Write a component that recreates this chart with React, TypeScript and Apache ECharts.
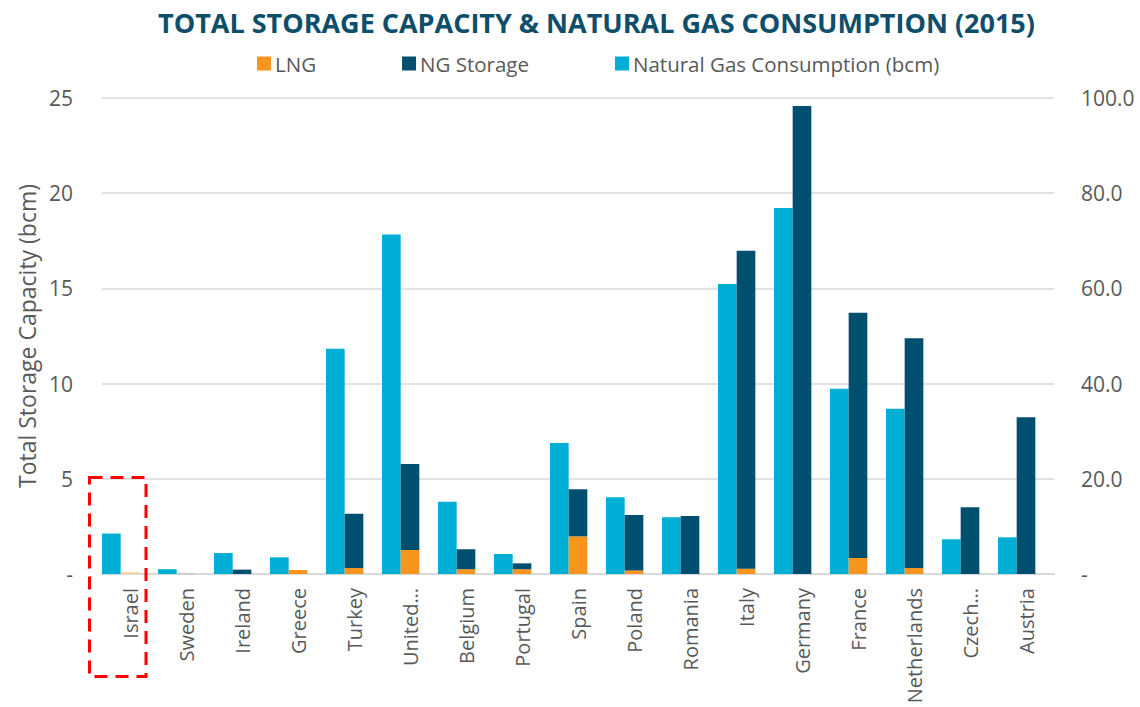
import React, { useEffect, useRef } from "react";
import * as echarts from "echarts";

const categories = [
  "Israel", "Sweden", "Ireland", "Greece", "Turkey", "United…", "Belgium", "Portugal",
  "Spain", "Poland", "Romania", "Italy", "Germany", "France", "Netherlands", "Czech…", "Austria",
];
// Natural gas consumption, bcm (right axis)
const consumption = [8.5, 1.0, 4.4, 3.5, 47.3, 71.3, 15.2, 4.2, 27.5, 16.1, 11.9, 60.9, 76.9, 38.9, 34.7, 7.3, 7.7];
// LNG storage capacity, bcm (left axis)
const lng = [0.1, 0, 0, 0.21, 0.32, 1.26, 0.25, 0.25, 1.98, 0.19, 0, 0.28, 0, 0.84, 0.32, 0, 0];
// Underground NG storage capacity, bcm (left axis)
const ngStorage = [0, 0.05, 0.23, 0, 2.85, 4.52, 1.05, 0.31, 2.47, 2.91, 3.05, 16.7, 24.58, 12.88, 12.06, 3.5, 8.23];
const leftTicks = { min: 0, max: 25, interval: 5 };
const rightTicks = { min: 0, max: 100, interval: 20 };

const C_CONS = "#00AED6";
const C_NG = "#004F6E";
const C_LNG = "#F7941D";
const GREY = "#595959";
const FONT = "Open Sans";

export default function App() {
  const ref = useRef<HTMLDivElement>(null);
  useEffect(() => {
    if (!ref.current) return;
    const chart = echarts.init(ref.current, null, { renderer: "svg" });
    chart.setOption({
      animation: false,
      textStyle: { fontFamily: FONT },
      title: {
        text: "TOTAL STORAGE CAPACITY & NATURAL GAS CONSUMPTION (2015)",
        left: 153,
        top: 4,
        textStyle: { fontFamily: FONT, fontWeight: "bold", fontSize: 27, color: "#0D4E6B" },
      },
      legend: {
        data: ["LNG", "NG Storage", "Natural Gas Consumption (bcm)"],
        left: 252,
        top: 48,
        itemWidth: 14,
        itemHeight: 14,
        itemGap: 86,
        icon: "rect",
        textStyle: { fontFamily: FONT, fontSize: 20.5, color: GREY, padding: [0, 0, 0, -1] },
      },
      grid: { left: 102, right: 86, top: 98, bottom: 133, outerBoundsMode: "none", containLabel: false },
      xAxis: {
        type: "category",
        data: categories,
        axisLine: { lineStyle: { color: "#D9D9D9", width: 2 } },
        axisTick: { show: false },
        axisLabel: { rotate: 90, margin: 14, fontSize: 20, color: GREY, fontFamily: FONT, interval: 0 },
      },
      yAxis: [
        {
          type: "value",
          ...leftTicks,
          name: "Total Storage Capacity (bcm)",
          nameLocation: "middle",
          nameGap: 61,
          nameTextStyle: { fontSize: 23, color: GREY, fontFamily: FONT },
          axisLabel: {
            margin: 29,
            fontSize: 21,
            color: GREY,
            fontFamily: FONT,
            formatter: (v: number) => (v === 0 ? "-" : String(v)),
          },
          splitLine: { lineStyle: { color: "#D9D9D9", width: 1.5 } },
          axisLine: { show: false },
          axisTick: { show: false },
        },
        {
          type: "value",
          ...rightTicks,
          position: "right",
          axisLabel: {
            margin: 27,
            fontSize: 21,
            color: GREY,
            fontFamily: FONT,
            formatter: (v: number) => (v === 0 ? "-" : v.toFixed(1)),
          },
          splitLine: { show: false },
          axisLine: { show: false },
          axisTick: { show: false },
        },
      ],
      series: [
        {
          name: "Natural Gas Consumption (bcm)",
          type: "bar",
          yAxisIndex: 1,
          data: consumption,
          itemStyle: { color: C_CONS },
          barGap: "0%",
          barCategoryGap: "0%",
        },
        {
          name: "LNG",
          type: "bar",
          stack: "storage",
          yAxisIndex: 0,
          data: lng.map((v, i) => (i === 0 ? { value: v, itemStyle: { color: "#FAD29C" } } : v)),
          itemStyle: { color: C_LNG },
        },
        {
          name: "NG Storage",
          type: "bar",
          stack: "storage",
          yAxisIndex: 0,
          data: ngStorage.map((v, i) => (i === 1 ? { value: v, itemStyle: { color: "#C3C8CC" } } : v)),
          itemStyle: { color: C_NG },
        },
        {
          name: "spacer",
          type: "bar",
          yAxisIndex: 0,
          data: categories.map(() => null),
          itemStyle: { color: "transparent" },
        },
      ],
      graphic: [
        {
          type: "rect",
          shape: { x: 89.5, y: 477.5, width: 56.5, height: 199 },
          style: { fill: "none", stroke: "#FF0000", lineWidth: 3, lineDash: [13, 8] },
          z: 100,
        },
      ],
    });
    return () => chart.dispose();
  }, []);
  return (
    <div
      ref={ref}
      style={{ position: "fixed", left: 0, top: 0, width: 1140, height: 707, background: "#fff" }}
    />
  );
}
